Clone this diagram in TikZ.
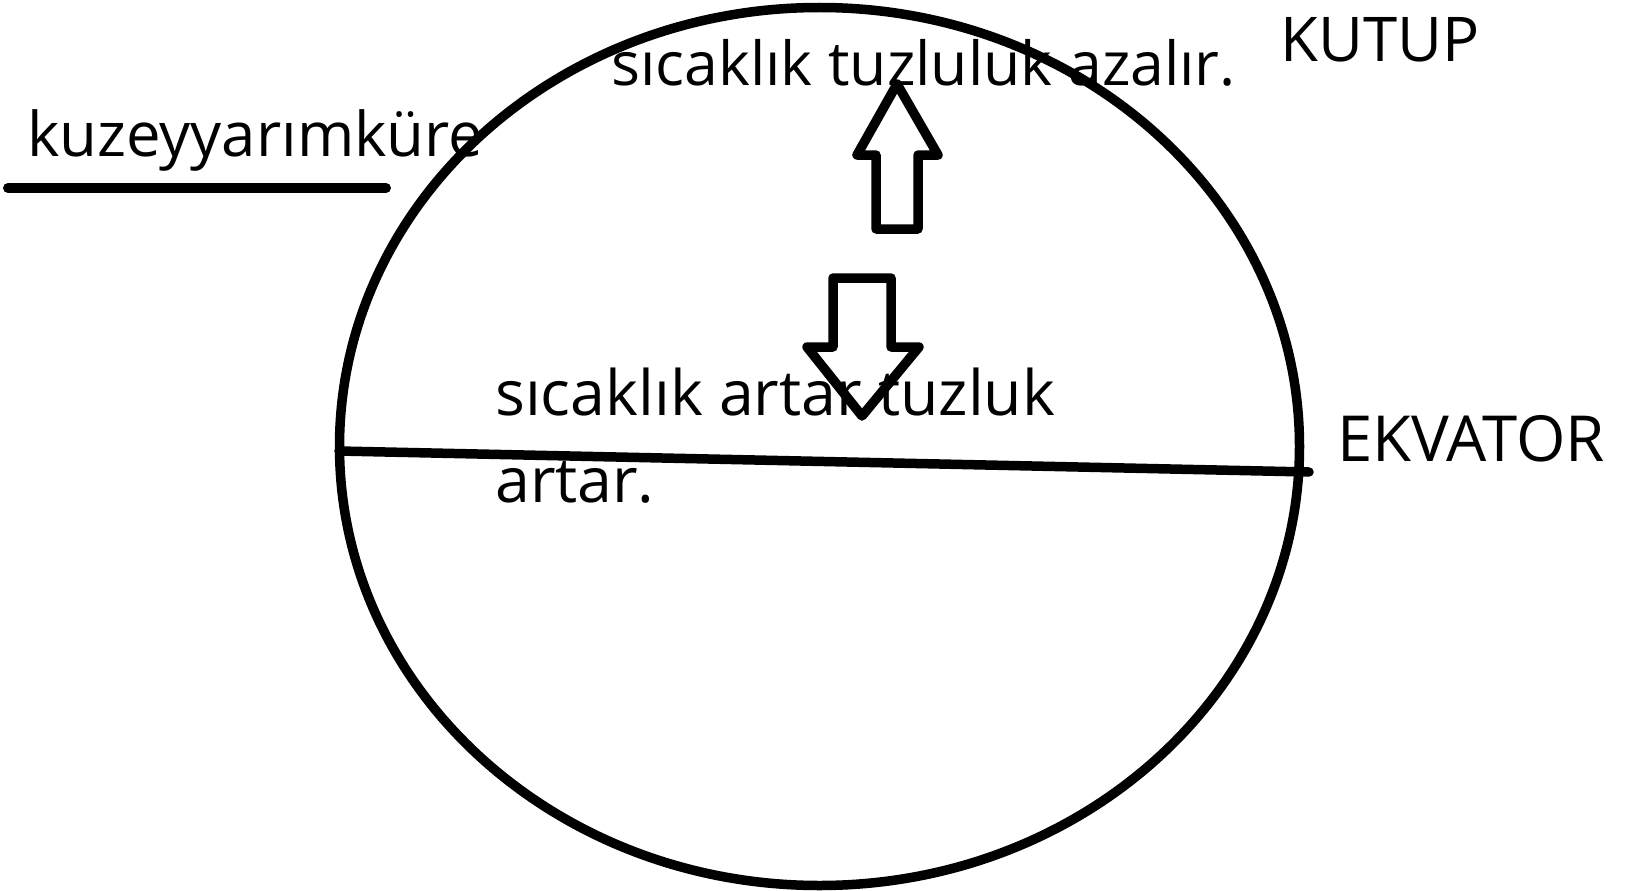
\documentclass[tikz,border=0pt]{standalone}
\usepackage{fontspec}
\setmainfont{Open Sans}
\begin{document}
\begin{tikzpicture}[x=1pt,y=-1pt,
  ink/.style={line width=9.5pt,black},
  lbl/.style={inner sep=0pt,anchor=base west,font=\fontsize{61.5}{72}\selectfont}]
\useasboundingbox (0,0) rectangle (1626,891);
\fill[white] (0,0) rectangle (1626,891);
% globe
\draw[ink] (819.5,446.5) ellipse [x radius=480pt, y radius=439pt];
% equator
\coordinate (eqL) at (339,451);
\coordinate (eqR) at (1309,472);
\draw[ink,line cap=round] (eqL) -- (eqR);
% underline
\coordinate (ulA) at (8,188);
\coordinate (ulB) at (386,188);
\draw[ink,line width=10pt,line cap=round] (ulA) -- (ulB);
% arrows
\draw[ink,line join=round] (876,229) -- (876,155) -- (857,155) -- (897,84) -- (938,155) -- (918,155) -- (918,229) -- cycle;
\draw[ink,line join=round] (833,278) -- (891,278) -- (891,347) -- (919,347) -- (862,416) -- (807,347) -- (833,347) -- cycle;
% labels
\node[lbl,font=\fontsize{61.7}{72}\selectfont] (kuzey) at (27,156) {kuzeyyarımküre};
\node[lbl,font=\fontsize{61.7}{72}\selectfont] (kutup) at (1280,62) {KUTUP};
\node[lbl,font=\fontsize{60.7}{72}\selectfont] (top) at (611,85) {sıcaklık tuzluluk azalır.};
\node[lbl,font=\fontsize{62.6}{72}\selectfont] (mid1) at (495,415) {sıcaklık artar tuzluk};
\node[lbl,font=\fontsize{62.6}{72}\selectfont] (mid2) at (495,502) {artar.};
\node[lbl,font=\fontsize{63.5}{72}\selectfont] (ekv) at (1337,461) {EKVATOR};
\end{tikzpicture}
\end{document}
